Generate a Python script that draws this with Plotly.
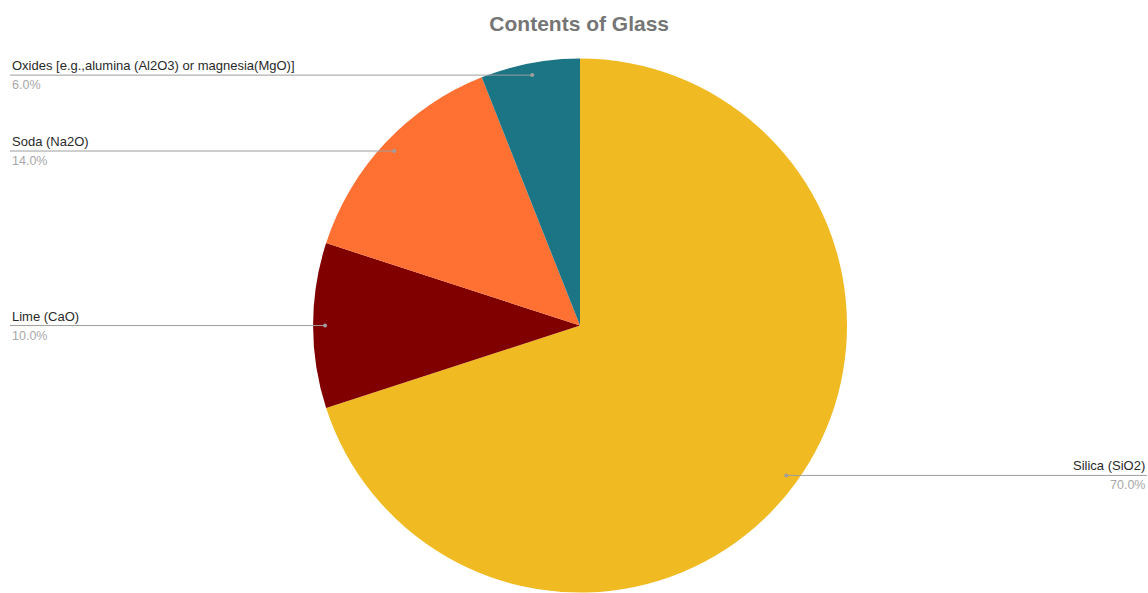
import math
import plotly.graph_objects as go

labels = ["Silica (SiO2)", "Lime (CaO)", "Soda (Na2O)", "Oxides [e.g.,alumina (Al2O3) or magnesia(MgO)]"]
values = [70, 10, 14, 6]
colors = ["#F0BA22", "#800000", "#FF7033", "#1C7585"]

W, H = 1148, 593
dom_x = [0.2727, 0.7378]
dom_y = [0.0, 0.902]

fig = go.Figure(go.Pie(
    labels=labels, values=values, sort=False, direction="clockwise", rotation=0,
    marker=dict(colors=colors, line=dict(width=0)),
    textinfo="none", hoverinfo="label+percent", showlegend=False,
    domain=dict(x=dom_x, y=dom_y),
))

# pie geometry in pixels (margins are zero)
pw = (dom_x[1] - dom_x[0]) * W
ph = (dom_y[1] - dom_y[0]) * H
R = min(pw, ph) / 2
cx = (dom_x[0] + dom_x[1]) / 2 * W
cy = H - (dom_y[0] + dom_y[1]) / 2 * H

total = sum(values)
shapes = []
annotations = []
cum = 0
line_col = "#9E9E9E"
xp = lambda p: p / W
yp = lambda p: 1 - p / H
for lab, v in zip(labels, values):
    mid = (cum + v / 2) / total * 2 * math.pi
    cum += v
    px = cx + 0.955 * R * math.sin(mid)
    py = cy - 0.955 * R * math.cos(mid)
    left = px < cx
    ex = 10 if left else W - 1
    shapes.append(dict(type="line", xref="paper", yref="paper",
                       x0=xp(ex), x1=xp(px), y0=yp(py), y1=yp(py),
                       line=dict(color=line_col, width=1)))
    shapes.append(dict(type="circle", xref="paper", yref="paper",
                       x0=xp(px - 2), x1=xp(px + 2), y0=yp(py - 2), y1=yp(py + 2),
                       fillcolor=line_col, line=dict(width=0)))
    tx = 10 if left else W - 1
    anchor = "left" if left else "right"
    annotations.append(dict(xref="paper", yref="paper", x=xp(tx), y=yp(py),
                            xanchor=anchor, yanchor="bottom", showarrow=False,
                            text=lab, font=dict(size=13, color="#2A2A2A")))
    annotations.append(dict(xref="paper", yref="paper", x=xp(tx), y=yp(py + 1),
                            xanchor=anchor, yanchor="top", showarrow=False,
                            text=f"{v / total * 100:.1f}%", font=dict(size=12.5, color="#A8A8A8")))

fig.update_layout(
    width=W, height=H,
    margin=dict(l=0, r=0, t=0, b=0),
    paper_bgcolor="white", plot_bgcolor="white",
    font=dict(family="Liberation Sans, Arial, sans-serif"),
    title=dict(text="<b>Contents of Glass</b>", x=0.5045, xanchor="center",
               y=1 - 24 / H, yanchor="middle", yref="container",
               font=dict(size=21, color="#757575")),
    shapes=shapes, annotations=annotations,
)

fig.write_html("out.html", config={"displayModeBar": False},
               post_script="document.body.style.margin='0';document.body.style.overflow='hidden';")
